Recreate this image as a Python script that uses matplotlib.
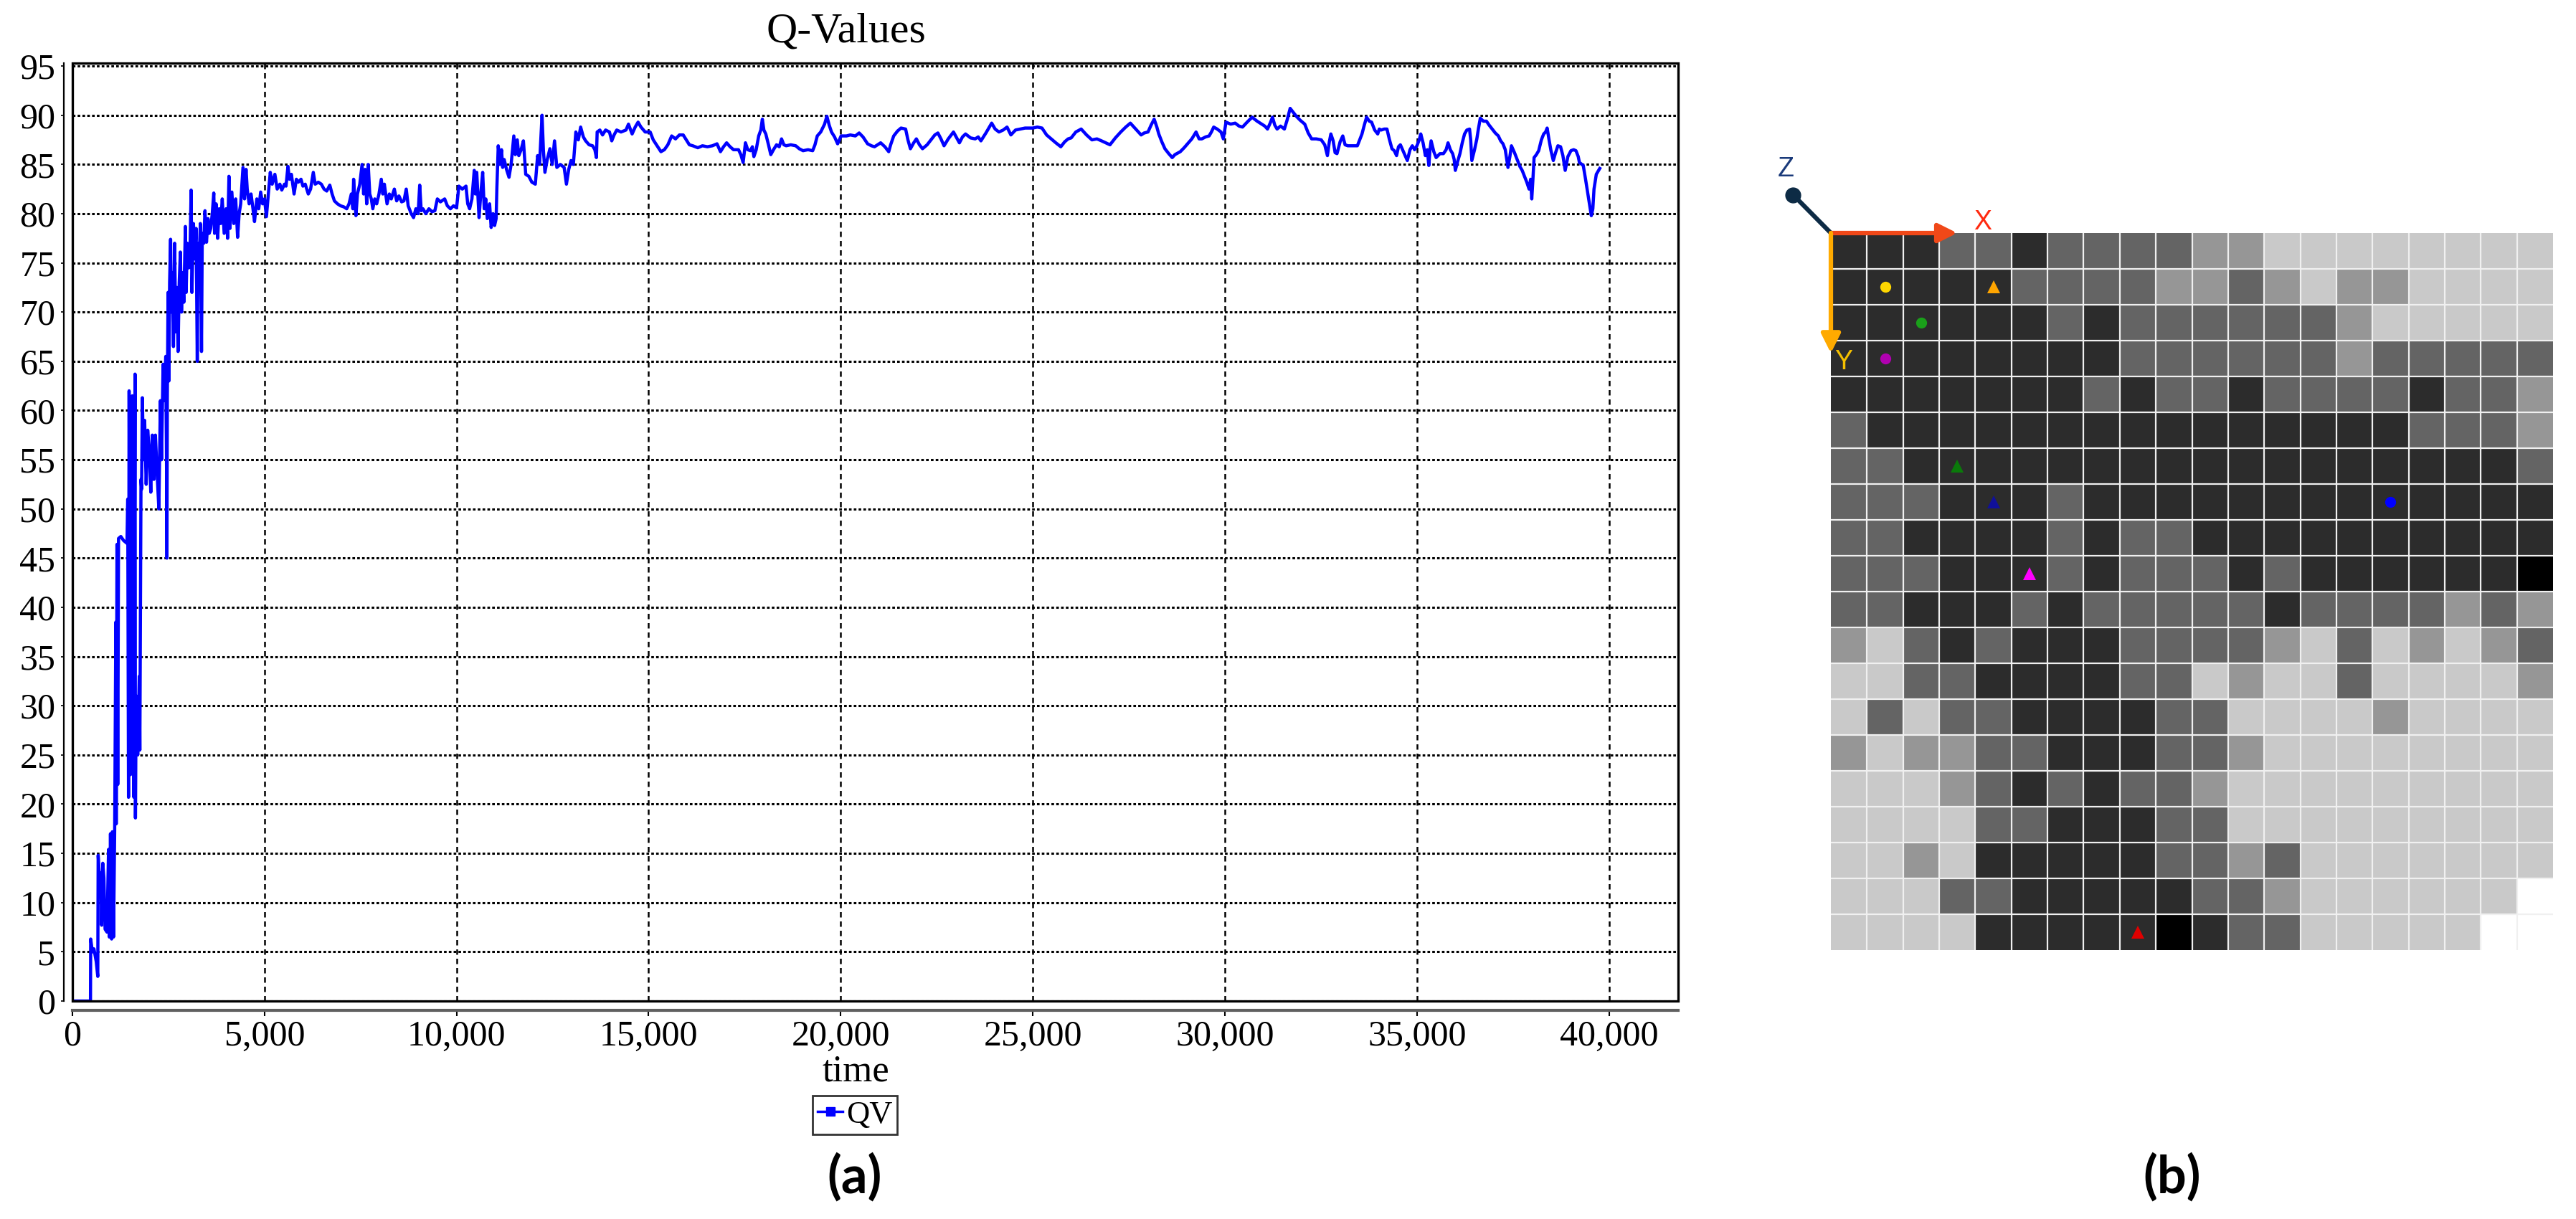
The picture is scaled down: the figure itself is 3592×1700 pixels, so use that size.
import numpy as np
import matplotlib.pyplot as plt
from matplotlib.colors import ListedColormap
from matplotlib.lines import Line2D
from matplotlib.patches import Rectangle

plt.rcParams['font.family'] = ['Liberation Serif', 'DejaVu Serif']

# ---- panel (a): Q-value trace in segments ----
t_ramp = [0, 470, 475, 520, 560, 620, 660, 670, 700, 740,
          760, 790, 820, 850, 900, 940, 960, 990, 1020, 1040,
          1070, 1100, 1130, 1140, 1160, 1180, 1200, 1260, 1330, 1420,
          1440, 1460, 1475, 1510, 1560, 1600, 1630, 1640, 1660, 1700,
          1740, 1755, 1785, 1800, 1820, 1850, 1880, 1920, 1960, 2000,
          2040, 2080, 2120, 2160, 2200, 2250, 2290, 2320, 2360, 2390,
          2430]
q_ramp = [0, 0, 6.3, 5.0, 5.3, 4.0, 2.5, 14.8, 12.8, 13.0,
          7.7, 14.0, 12.5, 7.3, 7.0, 15.4, 6.5, 17.0, 6.3, 17.2,
          6.5, 17.5, 38.5, 18.0, 46.4, 22.0, 47.0, 47.2, 46.8, 46.5,
          51.0, 20.7, 62.0, 23.0, 61.5, 20.7, 63.7, 18.6, 31.0, 25.0,
          33.0, 25.5, 53.0, 52.0, 61.3, 55.0, 59.0, 52.5, 58.0, 56.0,
          51.7, 57.5, 53.0, 57.5, 54.0, 50.0, 61.0, 55.0, 64.7, 61.0,
          65.5]

t_climb = [2450, 2460, 2470, 2490, 2510, 2530, 2555, 2575, 2600, 2630,
           2660, 2690, 2720, 2750, 2780, 2810, 2840, 2870, 2900, 2940,
           2960, 2990, 3030, 3060, 3090, 3110, 3150, 3190, 3220, 3250,
           3270, 3300, 3330, 3360, 3380, 3420, 3450, 3490, 3530, 3560,
           3600, 3640, 3680, 3700, 3740, 3780, 3820, 3860, 3900, 3950,
           4000, 4040, 4075, 4100, 4150, 4200, 4250, 4300, 4340, 4380,
           4440, 4480, 4520, 4550, 4600, 4650, 4700, 4740, 4800, 4850,
           4900, 4950]
q_climb = [54.0, 45.0, 61.0, 72.0, 63.0, 73.0, 77.4, 70.0, 74.0, 66.5,
           77.0, 68.0, 72.5, 66.0, 73.0, 76.1, 70.0, 74.0, 71.0, 78.7,
           72.0, 77.0, 74.5, 76.0, 82.4, 72.0, 79.0, 75.4, 78.5, 65.0,
           77.0, 75.5, 79.0, 66.0, 78.0, 77.0, 80.3, 77.1, 79.5, 78.0,
           78.5, 80.0, 82.1, 78.0, 81.0, 77.5, 80.5, 79.0, 81.5, 78.0,
           80.5, 77.5, 83.8, 78.5, 82.2, 79.0, 81.5, 77.6, 80.0, 81.0,
           84.7, 81.5, 84.5, 82.5, 81.0, 82.0, 80.5, 79.2, 81.5, 80.5,
           82.2, 81.0]

t_plateau1 = [5000, 5050, 5100, 5150, 5200, 5270, 5330, 5400, 5450, 5520,
              5560, 5610, 5650, 5700, 5770, 5830, 5880, 5950, 6000, 6060,
              6140, 6200, 6270, 6320, 6400, 6480, 6550, 6620, 6700, 6760,
              6820, 6900, 6980, 7060, 7140, 7200, 7260, 7300, 7320, 7360,
              7380, 7420, 7480, 7540, 7580, 7620, 7660, 7700, 7740, 7780,
              7820, 7870, 7920, 7980, 8040, 8080, 8120, 8190, 8250, 8300,
              8380, 8440, 8500, 8570, 8630, 8690, 8740, 8820, 8880, 8940,
              9000, 9040, 9080, 9125, 9200, 9280, 9360, 9435, 9500, 9580,
              9690, 9760, 9840, 9920, 10000, 10060, 10150, 10245, 10290, 10340,
              10400, 10460, 10490, 10525, 10585, 10630, 10680, 10720, 10760, 10800,
              10860, 10900, 10950, 10990, 11030]
q_plateau1 = [81.5, 79.7, 82.0, 84.2, 83.0, 84.0, 82.5, 83.0, 82.4, 83.0,
              82.8, 84.8, 83.5, 84.0, 82.0, 83.5, 83.2, 83.5, 82.8, 83.0,
              82.0, 82.5, 84.2, 83.0, 83.2, 83.0, 82.5, 82.3, 82.9, 82.0,
              81.3, 81.0, 80.8, 80.7, 80.5, 81.0, 82.0, 80.5, 83.5, 81.0,
              79.8, 82.0, 83.0, 85.0, 82.0, 84.5, 81.0, 85.0, 82.0, 81.5,
              80.5, 81.5, 81.0, 82.0, 83.5, 82.0, 83.0, 81.0, 82.0, 81.5,
              82.5, 81.3, 81.8, 81.2, 81.3, 82.5, 80.8, 80.0, 79.6, 80.5,
              80.0, 82.9, 80.3, 80.5, 80.0, 80.5, 80.2, 80.3, 81.5, 81.2,
              81.5, 80.8, 80.5, 80.8, 80.6, 82.8, 82.5, 82.8, 81.0, 80.5,
              81.5, 84.4, 82.0, 84.2, 79.6, 82.0, 84.2, 80.5, 81.5, 79.5,
              81.0, 78.6, 80.0, 78.8, 79.5]

t_plateau2 = [11050, 11085, 11130, 11170, 11200, 11240, 11300, 11365, 11420, 11490,
              11530, 11580, 11620, 11680, 11740, 11800, 11880, 11960, 12050, 12110,
              12160, 12225, 12260, 12300, 12360, 12430, 12490, 12550, 12610, 12700,
              12800, 12860, 12920, 12980, 13040, 13105, 13170, 13230, 13300, 13360,
              13450, 13540, 13600, 13640, 13660, 13730, 13800, 13880, 13980, 14040,
              14100, 14170, 14280, 14410, 14475, 14570, 14650, 14725, 14800, 14910,
              15040, 15120, 15220, 15320, 15410, 15500, 15600, 15700, 15800, 15900,
              15980, 16060, 16150, 16280, 16400, 16530, 16660, 16780, 16870, 16950]
q_plateau2 = [82.7, 86.9, 85.0, 86.5, 84.7, 85.5, 84.5, 83.7, 85.0, 87.9,
              86.0, 87.5, 85.9, 86.5, 87.4, 84.0, 83.8, 83.2, 83.0, 85.9,
              85.0, 90.0, 86.5, 84.2, 85.5, 86.6, 85.0, 87.4, 84.7, 85.0,
              84.7, 83.0, 84.5, 85.4, 85.0, 88.3, 87.5, 88.8, 87.8, 87.4,
              87.0, 86.9, 86.5, 85.7, 88.3, 88.5, 88.0, 88.5, 88.3, 87.4,
              88.0, 88.5, 88.3, 88.5, 89.1, 88.1, 88.8, 89.3, 88.8, 88.3,
              88.3, 87.5, 86.9, 86.3, 86.5, 87.0, 87.9, 87.6, 88.0, 88.0,
              87.5, 87.0, 86.9, 86.7, 86.9, 86.8, 86.9, 87.1, 86.3, 86.8]

t_plateau3 = [17030, 17120, 17210, 17340, 17400, 17460, 17520, 17580, 17650, 17700,
              17740, 17800, 17865, 17920, 17960, 18000, 18050, 18120, 18180, 18250,
              18330, 18400, 18460, 18520, 18580, 18700, 18830, 18920, 19020, 19150,
              19270, 19330, 19390, 19480, 19580, 19640, 19700, 19760, 19840, 19920,
              20010, 20150, 20250, 20380, 20480, 20580, 20700, 20800, 20880, 20960,
              21040, 21150, 21250, 21300, 21380, 21480, 21570, 21690, 21750, 21815,
              21900, 21970, 22050, 22130, 22250, 22370, 22450, 22530, 22610, 22690,
              22800, 22935, 23020, 23090, 23170, 23250, 23380, 23500, 23580, 23650,
              23780, 23930, 24020, 24120, 24230, 24330, 24430, 24550, 24680, 24800]
q_plateau3 = [87.2, 86.8, 86.5, 86.5, 86.0, 85.2, 87.2, 86.5, 86.4, 86.8,
              85.8, 86.5, 87.9, 88.5, 89.6, 88.5, 88.1, 87.0, 86.0, 86.5,
              87.0, 86.8, 87.6, 87.0, 86.9, 87.0, 86.9, 86.6, 86.4, 86.5,
              86.4, 87.0, 87.9, 88.3, 89.1, 89.9, 89.0, 88.3, 87.8, 87.1,
              87.9, 87.9, 88.0, 87.9, 88.2, 87.8, 87.1, 86.9, 86.8, 87.0,
              87.2, 86.8, 86.3, 87.0, 87.9, 88.4, 88.7, 88.6, 87.5, 86.6,
              87.2, 87.6, 87.0, 86.6, 87.0, 87.6, 88.0, 88.2, 87.6, 86.9,
              87.6, 88.3, 87.7, 87.2, 87.8, 88.1, 87.7, 87.6, 87.8, 87.4,
              88.2, 89.2, 88.6, 88.3, 88.5, 88.8, 88.0, 88.5, 88.6, 88.7]

t_plateau4 = [25000, 25120, 25240, 25360, 25480, 25600, 25730, 25830, 25920, 26000,
              26120, 26260, 26400, 26540, 26670, 26790, 26900, 27010, 27150, 27290,
              27420, 27540, 27680, 27820, 27900, 28000, 28080, 28160, 28230, 28280,
              28360, 28440, 28540, 28630, 28700, 28840, 28940, 29030, 29140, 29250,
              29330, 29400, 29500, 29590, 29650, 29710, 29800, 29900, 29960, 30030,
              30150, 30270, 30370, 30460, 30580, 30710, 30840, 30960, 31040, 31110,
              31180, 31240, 31300, 31360, 31450, 31550, 31620, 31700, 31780, 31860,
              31960, 32080, 32170, 32260, 32380, 32510, 32600, 32670, 32720, 32760]
q_plateau4 = [88.7, 88.8, 88.7, 88.0, 87.6, 87.2, 86.8, 87.3, 87.6, 87.7,
              88.3, 88.6, 88.0, 87.5, 87.6, 87.4, 87.2, 87.0, 87.7, 88.3,
              88.8, 89.2, 88.6, 88.0, 88.2, 88.3, 89.0, 89.6, 88.8, 88.1,
              87.3, 86.6, 86.1, 85.7, 86.0, 86.3, 86.7, 87.1, 87.6, 88.3,
              87.6, 87.6, 87.8, 87.9, 88.3, 88.8, 88.6, 88.3, 87.6, 89.3,
              89.1, 89.2, 88.9, 88.8, 89.3, 89.8, 89.4, 89.1, 88.9, 88.6,
              89.2, 89.8, 89.0, 88.6, 88.9, 88.6, 89.5, 90.7, 90.3, 89.9,
              89.5, 89.1, 88.2, 87.6, 87.6, 87.5, 87.0, 85.9, 87.3, 88.1]

t_tail = [32820, 32870, 32920, 33000, 33070, 33130, 33200, 33300, 33450, 33500,
          33570, 33630, 33690, 33760, 33820, 33900, 33980, 34020, 34070, 34150,
          34220, 34280, 34350, 34410, 34470, 34520, 34570, 34660, 34750, 34820,
          34880, 34940, 35000, 35060, 35100, 35160, 35220, 35270, 35310, 35340,
          35370, 35440, 35500, 35600, 35690, 35760, 35810, 35870, 35930, 35970,
          36000, 36060, 36120, 36180, 36240, 36300, 36370, 36400, 36430, 36500,
          36560, 36600, 36650, 36730, 36810, 36880, 36960, 37040, 37120, 37180,
          37240, 37300, 37370, 37420, 37460, 37540, 37620, 37680, 37740, 37800,
          37860, 37920, 37960, 37990, 38020, 38050, 38110, 38170, 38240, 38300,
          38350, 38390, 38440, 38490, 38550, 38610, 38670, 38740, 38800, 38860,
          38930, 39010, 39080, 39140, 39200, 39230, 39330, 39390, 39450, 39500,
          39540, 39580, 39610, 39670, 39760]
q_tail = [87.4, 86.2, 86.1, 87.3, 87.9, 87.0, 86.9, 86.9, 86.9, 87.4,
          88.1, 89.0, 89.8, 89.4, 89.3, 88.5, 88.1, 88.6, 88.5, 88.6,
          88.6, 87.6, 86.6, 86.4, 85.9, 86.8, 87.0, 86.2, 85.4, 86.5,
          86.9, 86.5, 86.9, 87.5, 88.1, 87.2, 85.9, 86.5, 84.9, 86.5,
          87.4, 86.3, 85.7, 86.1, 86.1, 86.5, 87.2, 86.5, 86.1, 85.5,
          84.4, 85.3, 86.1, 87.2, 88.1, 88.5, 88.6, 87.5, 85.4, 86.5,
          87.6, 88.6, 89.7, 89.4, 89.4, 89.0, 88.6, 88.2, 87.9, 87.4,
          87.1, 86.5, 84.7, 85.8, 86.9, 86.2, 85.4, 84.8, 84.4, 83.8,
          83.2, 82.5, 83.5, 81.5, 83.5, 85.7, 86.0, 86.4, 87.5, 88.1,
          88.3, 88.7, 87.5, 86.4, 85.4, 86.2, 86.9, 86.8, 85.9, 84.4,
          85.8, 86.4, 86.5, 86.4, 85.8, 85.2, 84.9, 83.5, 82.0, 80.8,
          79.8, 80.5, 82.5, 84.0, 84.6]

x_ticks = [0, 5000, 10000, 15000, 20000, 25000, 30000, 35000, 40000]
y_ticks = list(range(0, 96, 5))

# ---- panel (b): grid map levels (0 black, 1 dark, 2 mid, 3 light, 4 pale, 5 white) ----
level_colors = ['#000000', '#2c2c2c', '#646464', '#969696', '#c9c9c9', '#ffffff']
grid_levels = [
    [1, 1, 1, 2, 2, 1, 2, 2, 2, 2, 3, 3, 4, 4, 4, 4, 4, 4, 4, 4],
    [1, 1, 1, 1, 1, 2, 2, 2, 2, 3, 3, 2, 3, 4, 3, 3, 4, 4, 4, 4],
    [1, 1, 1, 1, 1, 1, 2, 1, 2, 2, 2, 2, 2, 2, 3, 4, 4, 4, 4, 4],
    [1, 1, 1, 1, 1, 1, 1, 1, 2, 2, 2, 2, 2, 2, 3, 2, 2, 2, 2, 2],
    [1, 1, 1, 1, 1, 1, 1, 2, 1, 2, 2, 1, 2, 2, 2, 2, 1, 2, 2, 3],
    [2, 1, 1, 1, 1, 1, 1, 1, 1, 1, 1, 1, 1, 1, 1, 1, 2, 2, 2, 3],
    [2, 2, 1, 1, 1, 1, 1, 1, 1, 1, 1, 1, 1, 1, 1, 1, 1, 1, 1, 2],
    [2, 2, 2, 1, 1, 1, 2, 1, 1, 1, 1, 1, 1, 1, 1, 1, 1, 1, 1, 1],
    [2, 2, 1, 1, 1, 1, 2, 1, 2, 2, 1, 1, 1, 1, 1, 1, 1, 1, 1, 1],
    [2, 2, 2, 1, 1, 1, 2, 1, 2, 2, 2, 1, 2, 1, 1, 1, 1, 1, 1, 0],
    [2, 2, 1, 1, 1, 2, 1, 2, 2, 2, 2, 2, 1, 2, 2, 2, 2, 3, 2, 3],
    [3, 4, 2, 1, 2, 1, 1, 1, 2, 2, 2, 2, 3, 4, 2, 4, 3, 4, 3, 2],
    [4, 4, 2, 2, 1, 1, 1, 1, 2, 2, 4, 3, 4, 4, 2, 4, 4, 4, 4, 3],
    [4, 2, 4, 2, 2, 1, 1, 1, 1, 2, 2, 4, 4, 4, 4, 3, 4, 4, 4, 4],
    [3, 4, 3, 3, 2, 2, 1, 1, 1, 2, 2, 3, 4, 4, 4, 4, 4, 4, 4, 4],
    [4, 4, 4, 3, 2, 1, 2, 1, 2, 2, 3, 4, 4, 4, 4, 4, 4, 4, 4, 4],
    [4, 4, 4, 4, 2, 2, 1, 1, 1, 2, 2, 4, 4, 4, 4, 4, 4, 4, 4, 4],
    [4, 4, 3, 4, 1, 1, 1, 1, 1, 2, 2, 3, 2, 4, 4, 4, 4, 4, 4, 4],
    [4, 4, 4, 2, 2, 1, 1, 1, 1, 1, 2, 2, 3, 4, 4, 4, 4, 4, 4, 5],
    [4, 4, 4, 4, 1, 1, 1, 1, 1, 0, 1, 2, 2, 4, 4, 4, 4, 4, 5, 5],
]
marker_rows = [1, 1, 2, 3, 6, 7, 7, 9, 19]
marker_cols = [1, 4, 2, 1, 3, 4, 15, 5, 8]
marker_shapes = ['o', '^', 'o', 'o', '^', '^', 'o', '^', '^']
marker_colors = ['#ffd700', '#ffa500', '#1aa01a', '#b000b0', '#0a7a0a',
                 '#10109a', '#0000ff', '#ff00ff', '#e00000']

W, H = 3592, 1700
fig = plt.figure(figsize=(W / 100, H / 100), dpi=100)

# ---------------- (a) ----------------
ax = fig.add_axes([101 / W, 1 - 1396 / H, (2340 - 101) / W, (1396 - 88) / H])
t_all = t_ramp + t_climb + t_plateau1 + t_plateau2 + t_plateau3 + t_plateau4 + t_tail
q_all = q_ramp + q_climb + q_plateau1 + q_plateau2 + q_plateau3 + q_plateau4 + q_tail
ax.plot(t_all, q_all, color='#0000ff', lw=3.2, zorder=3)

ax.set_xlim(0, 41800)
ax.set_ylim(0, 95.3)
ax.set_xticks(x_ticks)
ax.set_xticklabels(['{:,}'.format(v) for v in x_ticks])
ax.set_yticks(y_ticks)

ax.grid(axis='y', color='black', lw=2.2, linestyle=(0, (1.2, 1.0)))
ax.grid(axis='x', color='black', lw=1.8, linestyle=(0, (3.0, 2.2)))

for s in ['top', 'right']:
    ax.spines[s].set_visible(False)
ax.spines['left'].set_position(('outward', 9))
ax.spines['left'].set_linewidth(1.6)
ax.spines['bottom'].set_position(('outward', 9))
ax.spines['bottom'].set_linewidth(3)
ax.spines['bottom'].set_color('#606060')
ax.add_patch(Rectangle((0, 0), 1, 1, transform=ax.transAxes, fill=False,
                       ec='black', lw=2.4, zorder=5, clip_on=False))

ax.tick_params(axis='x', direction='out', length=6, width=1.5, pad=4, labelsize=36)
ax.tick_params(axis='y', direction='out', length=3, width=1.2, pad=5, labelsize=36)

fig.text(1180 / W, 1 - 44 / H, 'Q-Values', ha='center', va='center', fontsize=43)
fig.text(1193 / W, 1 - 1495 / H, 'time', ha='center', va='center', fontsize=38)

handle = Line2D([], [], color='#0000ff', lw=2.5, marker='s', markersize=9)
leg = fig.legend(handles=[handle], labels=['QV'], loc='center',
                 bbox_to_anchor=(1192 / W, 1 - 1555 / H), frameon=True, fancybox=False,
                 edgecolor='black', fontsize=32, handlelength=0.8, handletextpad=0.1,
                 borderpad=0.15, borderaxespad=0)
leg.get_frame().set_linewidth(2)

fig.text(1192 / W, 1 - 1642 / H, '(a)', ha='center', va='center', fontsize=52,
         fontweight='bold', family=['Lato', 'DejaVu Sans'])

# ---------------- (b) ----------------
axb = fig.add_axes([2553 / W, 1 - 1325 / H, 1007 / W, 1000 / H])
axb.imshow(np.array(grid_levels), cmap=ListedColormap(level_colors), vmin=-0.5, vmax=5.5,
           extent=(0, 20, 20, 0), aspect='auto', interpolation='nearest')
for i in range(1, 20):
    axb.axhline(i, color='#f0f0f0', lw=1.6)
    axb.axvline(i, color='#f0f0f0', lw=1.6)
axb.set_xlim(0, 20)
axb.set_ylim(20, 0)
axb.axis('off')

for r, c, m, col in zip(marker_rows, marker_cols, marker_shapes, marker_colors):
    axb.plot(c + 0.5, r + 0.5, marker=m, color=col, markersize=11 if m == 'o' else 13,
             markeredgewidth=0, zorder=4)

# frame axes drawn at the grid origin
axb.plot([0, -1.05], [0, -1.07], color='#0d2b45', lw=4.5, clip_on=False,
         solid_capstyle='round', zorder=6)
axb.plot(-1.05, -1.07, 'o', color='#0d2b45', markersize=15, clip_on=False, zorder=6)
axb.annotate('', xy=(3.5, 0), xytext=(0, 0), annotation_clip=False, zorder=7,
             arrowprops=dict(arrowstyle='-|>', color='#f04818', lw=4.5, mutation_scale=40,
                             shrinkA=0, shrinkB=0))
axb.annotate('', xy=(0, 3.35), xytext=(0, 0), annotation_clip=False, zorder=7,
             arrowprops=dict(arrowstyle='-|>', color='#ffaa00', lw=4.5, mutation_scale=40,
                             shrinkA=0, shrinkB=0))
axb.text(4.2, -0.3, 'X', color='#ff2a10', fontsize=27, ha='center', va='center',
         family=['Liberation Sans', 'DejaVu Sans'], clip_on=False)
axb.text(0.36, 3.6, 'Y', color='#f5c000', fontsize=27, ha='center', va='center',
         family=['Liberation Sans', 'DejaVu Sans'], clip_on=False)
axb.text(-1.25, -1.78, 'Z', color='#1a3a7a', fontsize=27, ha='center', va='center',
         family=['Liberation Sans', 'DejaVu Sans'], clip_on=False)

fig.text(3029 / W, 1 - 1642 / H, '(b)', ha='center', va='center', fontsize=52,
         fontweight='bold', family=['Lato', 'DejaVu Sans'])

fig.savefig('out.png', dpi=100)
